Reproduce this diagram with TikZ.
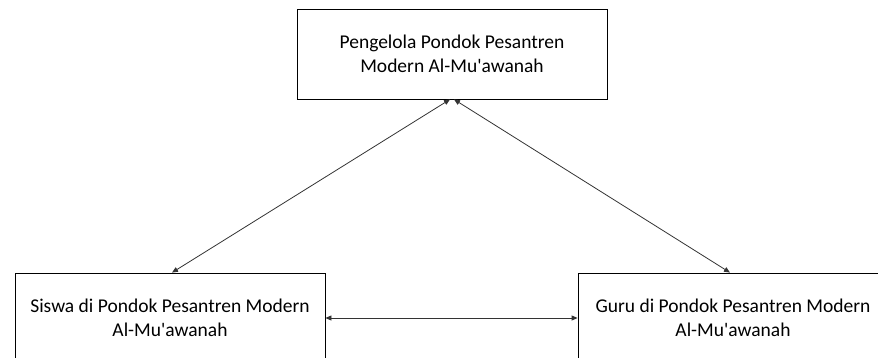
\documentclass[tikz,border=0pt]{standalone}
\usepackage{fontspec}
\setmainfont{Carlito}
\usetikzlibrary{positioning,arrows.meta}

\begin{document}
\begin{tikzpicture}[x=1pt,y=-1pt,
    unitbox/.style={draw=black,line width=0.8pt,fill=white,minimum width=310pt,
        minimum height=90pt,align=center,inner sep=0pt,
        font=\fontsize{19.5}{24.5}\selectfont},
    relasi/.style={draw=black!80,line width=0.8pt,
        {Triangle[length=6pt,width=5pt]}-{Triangle[length=6pt,width=5pt]}}]
  \useasboundingbox (0,0) rectangle (878,358);
  % unit di pondok
  \node[unitbox] (pengelola) at (452,54) {Pengelola Pondok Pesantren\\Modern Al-Mu\textquotesingle awanah};
  \node[unitbox] (siswa) at (170,318) {Siswa di Pondok Pesantren Modern\\Al-Mu\textquotesingle awanah};
  \node[unitbox] (guru) at (733,318) {Guru di Pondok Pesantren Modern\\Al-Mu\textquotesingle awanah};
  % hubungan
  \draw[relasi] ([xshift=2pt]siswa.north) -- ([xshift=-2pt]pengelola.south);
  \draw[relasi] ([xshift=2pt]pengelola.south) -- ([xshift=-3pt]guru.north);
  \draw[relasi] (siswa.east) -- (guru.west);
\end{tikzpicture}
\end{document}
